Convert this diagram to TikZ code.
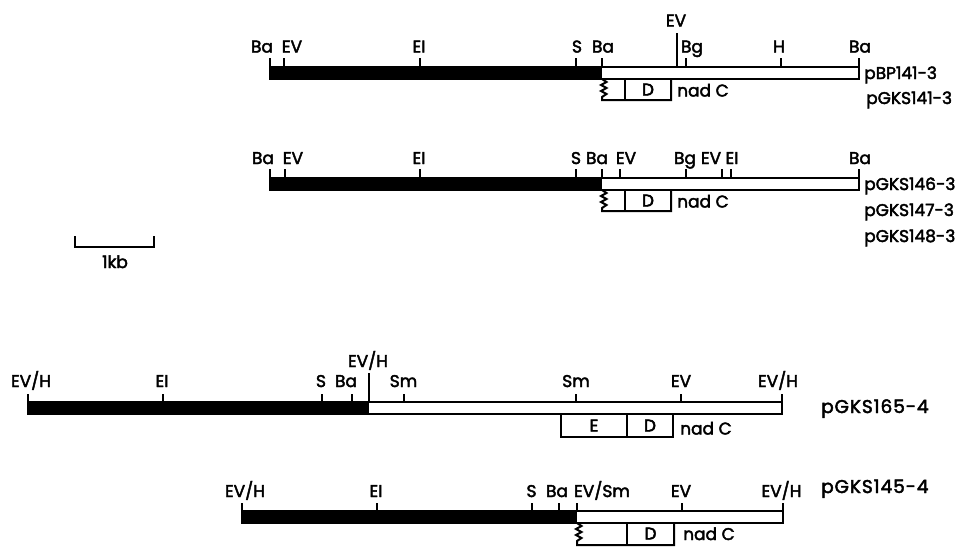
\documentclass[tikz,border=0pt]{standalone}
\usepackage{fontspec}
\setmainfont{Poppins}[FakeBold=2.5]
\newfontfamily\widefont{Poppins}[FakeBold=2.5,LetterSpace=5]
\begin{document}
\begin{tikzpicture}[x=1pt,y=-1pt,
  lbl/.style={font=\fontsize{17}{20}\selectfont, inner sep=0pt, anchor=base},
  pl/.style={font=\fontsize{17}{20}\selectfont, inner sep=0pt, anchor=base west},
  plw/.style={font=\widefont\fontsize{18.5}{22}\selectfont, inner sep=0pt, anchor=base west},
  outl/.style={line width=2pt, line join=miter},
  tk/.style={line width=2pt}]
\useasboundingbox (0,0) rectangle (965,546);

% ---------- Row 1: pBP141-3 ----------
\fill (270,67) rectangle (602,79);
\draw[outl] (270,67) rectangle (859,79);
\foreach \x in {270,284,420,576,602,686,781,859} \draw[tk] (\x,58) -- (\x,67);
\draw[tk] (677,33) -- (677,67);
\node[lbl] (a1) at (262,52.5) {Ba};
\node[lbl] (a2) at (292,52.5) {EV};
\node[lbl] (a3) at (419,52.5) {EI};
\node[lbl] (a4) at (577,52.5) {S};
\node[lbl] (a5) at (603,52.5) {Ba};
\node[lbl] (a6) at (676,26.5) {EV};
\node[lbl] (a7) at (692,52.5) {Bg};
\node[lbl] (a8) at (779,52.5) {H};
\node[lbl] (a9) at (860,52.5) {Ba};
\draw[outl] (602,79) -- (606.5,82) -- (601,85) -- (606.5,88) -- (601,91) -- (606.5,94) -- (602,97) -- (602,100) -- (671,100) -- (671,79);
\draw[outl] (625,79) -- (625,100);
\node[lbl] (aD) at (648,95.5) {D};
\node[pl] (aN) at (677,96.5) {nad C};
\node[pl] (aP1) at (864,79) {pBP141-3};
\node[pl] (aP2) at (866,104) {pGKS141-3};

% ---------- Row 2: pGKS146-3 ----------
\fill (270,178) rectangle (602,190);
\draw[outl] (270,178) rectangle (859,190);
\foreach \x in {270,285,420,576,602,620,686,722,731,859} \draw[tk] (\x,169) -- (\x,178);
\node[lbl] (b1) at (263,164) {Ba};
\node[lbl] (b2) at (293,164) {EV};
\node[lbl] (b3) at (419,164) {EI};
\node[lbl] (b4) at (576,164) {S};
\node[lbl] (b5) at (597,164) {Ba};
\node[lbl] (b6) at (626,164) {EV};
\node[lbl] (b7) at (685,164) {Bg};
\node[lbl] (b8) at (711,164) {EV};
\node[lbl] (b9) at (732,164) {EI};
\node[lbl] (b10) at (860,164) {Ba};
\draw[outl] (602,190) -- (606.5,193) -- (601,196) -- (606.5,199) -- (601,202) -- (606.5,205) -- (602,208) -- (602,211) -- (671,211) -- (671,190);
\draw[outl] (625,190) -- (625,211);
\node[lbl] (bD) at (648,206.5) {D};
\node[pl] (bN) at (677,207.5) {nad C};
\node[pl] (bP1) at (864,190) {pGKS146-3};
\node[pl] (bP2) at (864,216) {pGKS147-3};
\node[pl] (bP3) at (864,242) {pGKS148-3};

% ---------- Scale bar ----------
\draw[outl] (75,236) -- (75,247) -- (154,247) -- (154,236);
\node[lbl] (kb) at (115,268) {1kb};

% ---------- Row 3: pGKS165-4 ----------
\fill (28,402) rectangle (369,414);
\draw[outl] (28,402) rectangle (782,414);
\foreach \x in {28,163,322,352,404,576,681,782} \draw[tk] (\x,394) -- (\x,402);
\draw[tk] (369,373) -- (369,402);
\node[lbl] (c1) at (31,387) {EV/H};
\node[lbl] (c2) at (162,387) {EI};
\node[lbl] (c3) at (321,387) {S};
\node[lbl] (c4) at (346,387) {Ba};
\node[lbl] (c5) at (368,367) {EV/H};
\node[lbl] (c6) at (403.5,387) {Sm};
\node[lbl] (c7) at (576,387) {Sm};
\node[lbl] (c8) at (681,387) {EV};
\node[lbl] (c9) at (778,387) {EV/H};
\draw[outl] (561,414) rectangle (673,437);
\draw[outl] (627,414) -- (627,437);
\node[lbl] (cE) at (594,431.5) {E};
\node[lbl] (cD) at (650,431.5) {D};
\node[pl] (cN) at (680,434.5) {nad C};
\node[plw] (cP) at (821,413) {pGKS165-4};

% ---------- Row 4: pGKS145-4 ----------
\fill (242,511) rectangle (577,523);
\draw[outl] (242,511) rectangle (783,523);
\foreach \x in {242,377,532,559,577,682,783} \draw[tk] (\x,503) -- (\x,511);
\node[lbl] (d1) at (245,497) {EV/H};
\node[lbl] (d2) at (376,497) {EI};
\node[lbl] (d3) at (531.5,497) {S};
\node[lbl] (d4) at (557,497) {Ba};
\node[lbl] (d5) at (602,497) {EV/Sm};
\node[lbl] (d6) at (681,497) {EV};
\node[lbl] (d7) at (781.5,497) {EV/H};
\draw[outl] (577,523) -- (581.5,526) -- (576,529) -- (581.5,532) -- (576,535) -- (581.5,538) -- (577,541) -- (577,545) -- (674,545) -- (674,523);
\draw[outl] (627,523) -- (627,545);
\node[lbl] (dD) at (650.5,539.5) {D};
\node[pl] (dN) at (683,540) {nad C};
\node[plw] (dP) at (821,493) {pGKS145-4};
\end{tikzpicture}
\end{document}
